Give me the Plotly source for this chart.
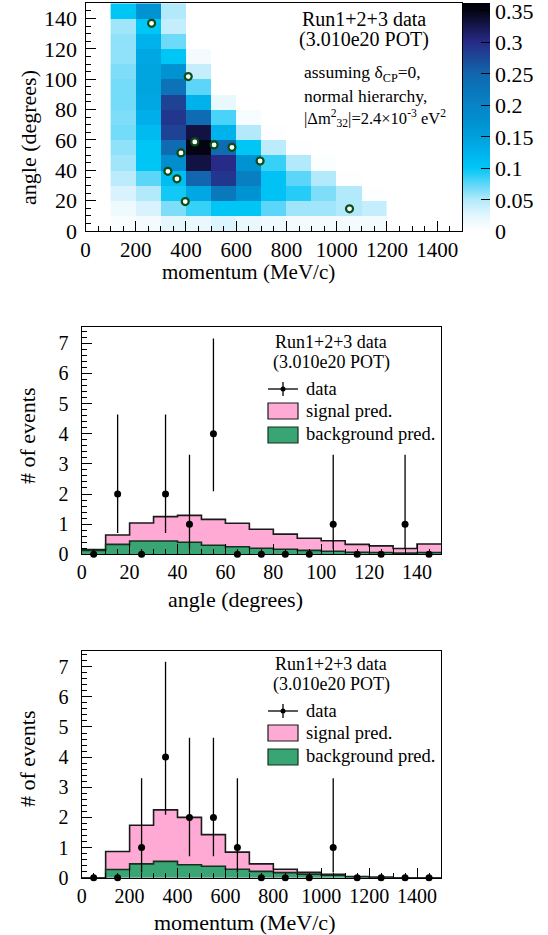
import plotly.graph_objects as go

W, H = 548, 935

# ---------------- data ----------------
# 2D prediction (top panel): rows = angle bins (0-10 ... 140-150), cols = momentum bins (100-200 ... 1100-1200)
mom_bin_centers = [150, 250, 350, 450, 550, 650, 750, 850, 950, 1050, 1150]
ang_bin_centers = [5, 15, 25, 35, 45, 55, 65, 75, 85, 95, 105, 115, 125, 135, 145]
pred_2d = [
    [0.005, 0.010, 0.022, 0.020, 0.028, 0.020, 0.015, 0.010, 0.010, 0.010, 0.010],
    [0.015, 0.030, 0.065, 0.085, 0.100, 0.100, 0.075, 0.055, 0.055, 0.050, 0.040],
    [0.030, 0.050, 0.095, 0.140, 0.220, 0.170, 0.105, 0.090, 0.065, 0.050, 0.003],
    [0.045, 0.075, 0.110, 0.250, 0.290, 0.210, 0.105, 0.075, 0.050, 0.003, 0.0],
    [0.055, 0.100, 0.180, 0.330, 0.300, 0.170, 0.085, 0.050, 0.004, 0.0, 0.0],
    [0.060, 0.100, 0.240, 0.350, 0.240, 0.100, 0.045, 0.003, 0.0, 0.0, 0.0],
    [0.068, 0.115, 0.280, 0.330, 0.125, 0.050, 0.003, 0.0, 0.0, 0.0, 0.0],
    [0.065, 0.130, 0.290, 0.240, 0.080, 0.007, 0.0, 0.0, 0.0, 0.0, 0.0],
    [0.068, 0.140, 0.280, 0.125, 0.020, 0.0, 0.0, 0.0, 0.0, 0.0, 0.0],
    [0.068, 0.145, 0.230, 0.075, 0.0, 0.0, 0.0, 0.0, 0.0, 0.0, 0.0],
    [0.065, 0.145, 0.170, 0.040, 0.0, 0.0, 0.0, 0.0, 0.0, 0.0, 0.0],
    [0.060, 0.140, 0.100, 0.010, 0.0, 0.0, 0.0, 0.0, 0.0, 0.0, 0.0],
    [0.060, 0.125, 0.070, 0.0, 0.0, 0.0, 0.0, 0.0, 0.0, 0.0, 0.0],
    [0.055, 0.100, 0.040, 0.0, 0.0, 0.0, 0.0, 0.0, 0.0, 0.0, 0.0],
    [0.100, 0.170, 0.050, 0.0, 0.0, 0.0, 0.0, 0.0, 0.0, 0.0, 0.0],
]
z_max = 0.362
cbar_ticks = [0, 0.05, 0.1, 0.15, 0.2, 0.25, 0.3, 0.35]
cbar_labels = ["0", "0.05", "0.1", "0.15", "0.2", "0.25", "0.3", "0.35"]

# observed events (momentum MeV/c, angle degrees)
evt_mom = [263, 409, 435, 512, 583, 380, 695, 328, 364, 397, 1051]
evt_ang = [136.8, 101.7, 58.7, 56.7, 55.1, 51.4, 46.1, 39.3, 34.4, 19.4, 14.6]

# angle projection
ang_edges = [0, 10, 20, 30, 40, 50, 60, 70, 80, 90, 100, 110, 120, 130, 140, 150]
ang_bkg = [0.13, 0.33, 0.44, 0.44, 0.40, 0.30, 0.25, 0.20, 0.17, 0.13, 0.10, 0.07, 0.06, 0.04, 0.06]
ang_sig = [0.03, 0.31, 0.60, 0.81, 0.89, 0.86, 0.78, 0.63, 0.50, 0.40, 0.35, 0.26, 0.22, 0.15, 0.28]
ang_data = [0, 2, 0, 2, 1, 4, 0, 0, 0, 0, 1, 0, 0, 1, 0]

# momentum projection
mom_edges = [0, 100, 200, 300, 400, 500, 600, 700, 800, 900, 1000, 1100, 1200, 1300, 1400, 1500]
mom_bkg = [0.0, 0.27, 0.46, 0.54, 0.43, 0.38, 0.28, 0.21, 0.17, 0.12, 0.08, 0.03, 0.01, 0.0, 0.0]
mom_sig = [0.0, 0.60, 1.28, 1.71, 1.57, 1.05, 0.57, 0.25, 0.11, 0.06, 0.03, 0.01, 0.0, 0.0, 0.0]
mom_data = [0, 0, 1, 4, 2, 2, 1, 0, 0, 0, 1, 0, 0, 0, 0]

# Poisson error bars (upper / lower) by observed count
err_up_by_n = {0: 0.0, 1: 2.30, 2: 2.64, 4: 3.16}
err_dn_by_n = {0: 0.0, 1: 0.83, 2: 1.29, 4: 1.91}

# colour palette (value -> colour)
pal_values = [0.0, 0.025, 0.05, 0.075, 0.1, 0.125, 0.15, 0.175, 0.2, 0.225, 0.25, 0.275, 0.3, 0.325, 0.35, 0.362]
pal_colors = ["#ffffff", "#e2f6fd", "#b2e9fb", "#5cd6f8", "#00c6f6", "#00b2ec", "#00a0dc", "#0090d0",
              "#0884c6", "#0a76ba", "#1266ae", "#1c4898", "#272a86", "#16174e", "#040412", "#000008"]

FONT = "Liberation Serif"
PINK = "#ffaad5"
GREEN = "#3aa574"

# ---------------- helpers ----------------
def px(x):
    return x / W

def py(y):
    return 1 - y / H

def step(edges, vals):
    return list(edges), list(vals) + [vals[-1]]

def centers(edges):
    return [(a + b) / 2 for a, b in zip(edges[:-1], edges[1:])]

fig = go.Figure()

# ---------------- top: 2D heatmap ----------------
colorscale = [[v / z_max, c] for v, c in zip(pal_values, pal_colors)]
fig.add_trace(go.Heatmap(
    x=mom_bin_centers, y=ang_bin_centers, z=pred_2d,
    zmin=0, zmax=z_max, colorscale=colorscale, xaxis="x", yaxis="y",
    showscale=True, hoverinfo="skip",
    colorbar=dict(
        x=px(463), xanchor="left", xpad=0, thickness=27, thicknessmode="pixels",
        y=py(3.3), yanchor="top", ypad=0, len=(231 - 3.3) / H, lenmode="fraction",
        outlinewidth=0, ticks="inside", ticklen=9, tickcolor="black", tickwidth=1,
        tickmode="array", tickvals=cbar_ticks, ticktext=cbar_labels, ticklabeloverflow="allow",
        tickfont=dict(family=FONT, size=22, color="black"),
    ),
))
fig.add_trace(go.Scatter(
    x=evt_mom, y=evt_ang, mode="markers", xaxis="x", yaxis="y",
    marker=dict(size=7, color="white", line=dict(color="#0b4d16", width=2.2)),
    showlegend=False, hoverinfo="skip",
))

# ---------------- middle: angle ----------------
ang_tot = [b + s for b, s in zip(ang_bkg, ang_sig)]
sx, sy = step(ang_edges, ang_tot)
fig.add_trace(go.Scatter(x=sx, y=sy, xaxis="x2", yaxis="y2", mode="lines", line_shape="hv",
                         fill="tozeroy", fillcolor=PINK, line=dict(color="#1a1a1a", width=1.6),
                         showlegend=False, hoverinfo="skip"))
bx, by = step(ang_edges, ang_bkg)
fig.add_trace(go.Scatter(x=bx, y=by, xaxis="x2", yaxis="y2", mode="lines", line_shape="hv",
                         fill="tozeroy", fillcolor=GREEN, line=dict(color="#14301f", width=1.6),
                         showlegend=False, hoverinfo="skip"))
fig.add_trace(go.Scatter(
    x=centers(ang_edges), y=ang_data, xaxis="x2", yaxis="y2", mode="markers", cliponaxis=False,
    marker=dict(size=7, color="black"),
    error_y=dict(type="data", symmetric=False, array=[err_up_by_n[n] for n in ang_data],
                 arrayminus=[err_dn_by_n[n] for n in ang_data], width=0, thickness=1.3, color="black"),
    showlegend=False, hoverinfo="skip"))

# ---------------- bottom: momentum ----------------
mom_tot = [b + s for b, s in zip(mom_bkg, mom_sig)]
sx, sy = step(mom_edges, mom_tot)
fig.add_trace(go.Scatter(x=sx, y=sy, xaxis="x3", yaxis="y3", mode="lines", line_shape="hv",
                         fill="tozeroy", fillcolor=PINK, line=dict(color="#1a1a1a", width=1.6),
                         showlegend=False, hoverinfo="skip"))
bx, by = step(mom_edges, mom_bkg)
fig.add_trace(go.Scatter(x=bx, y=by, xaxis="x3", yaxis="y3", mode="lines", line_shape="hv",
                         fill="tozeroy", fillcolor=GREEN, line=dict(color="#14301f", width=1.6),
                         showlegend=False, hoverinfo="skip"))
fig.add_trace(go.Scatter(
    x=centers(mom_edges), y=mom_data, xaxis="x3", yaxis="y3", mode="markers", cliponaxis=False,
    marker=dict(size=7, color="black"),
    error_y=dict(type="data", symmetric=False, array=[err_up_by_n[n] for n in mom_data],
                 arrayminus=[err_dn_by_n[n] for n in mom_data], width=0, thickness=1.3, color="black"),
    showlegend=False, hoverinfo="skip"))

# ---------------- axes ----------------
def axis(domain, rng, dtick, minor, size, anchor, standoff):
    return dict(
        domain=domain, range=rng, dtick=dtick, tick0=0, anchor=anchor, automargin=False,
        ticks="inside", ticklen=10, tickwidth=1, tickcolor="black",
        minor=dict(dtick=minor, ticks="inside", ticklen=5, tickwidth=1, tickcolor="black", showgrid=False),
        showline=True, linecolor="black", linewidth=1.2, mirror=True,
        showgrid=False, zeroline=False, ticklabelstandoff=standoff,
        tickfont=dict(family=FONT, size=size, color="black"),
    )

top_x = [px(85.5), px(462.3)]
top_y = [py(231), py(3.3)]
mid_x = [px(81.7), px(441)]
mid_y = [py(554.3), py(327.3)]
bot_x = [px(81.7), px(441)]
bot_y = [py(877.7), py(651)]

layout = dict(
    template="none",
    width=W, height=H, margin=dict(l=0, r=0, t=0, b=0, pad=0),
    paper_bgcolor="white", plot_bgcolor="white", showlegend=False,
    font=dict(family=FONT, color="black"),
    xaxis=axis(top_x, [0, 1500], 200, 50, 21, "y", 0),
    yaxis=axis(top_y, [0, 150], 20, 5, 22, "x", 3),
    xaxis2=axis(mid_x, [0, 150], 20, 5, 20, "y2", 0),
    yaxis2=axis(mid_y, [0, 7.53], 1, 0.2, 20, "x2", 8),
    xaxis3=axis(bot_x, [0, 1500], 200, 50, 20, "y3", 0),
    yaxis3=axis(bot_y, [0, 7.52], 1, 0.2, 20, "x3", 8),
)
fig.update_layout(**layout)

ann = []
def text(x, y, s, size, xanchor="center", angle=0):
    ann.append(dict(x=px(x), y=py(y), xref="paper", yref="paper", text=s, showarrow=False,
                    xanchor=xanchor, yanchor="middle", textangle=angle,
                    font=dict(family=FONT, size=size, color="black")))

# axis titles
text(248, 272, "momentum (MeV/c)", 21)
text(28, 138, "angle (degrees)", 22, angle=-90)
text(236, 599, "angle (degrees)", 22)
text(27, 436, "# of events", 22, angle=-90)
text(244, 922, "momentum (MeV/c)", 22)
text(27, 759, "# of events", 22, angle=-90)

# top panel labels
text(364, 19, "Run1+2+3 data", 20)
text(364, 40, "(3.010e20 POT)", 20)
text(302, 73, "assuming δ<sub>CP</sub>=0,", 17.5, xanchor="left")
text(302, 96, "normal hierarchy,", 17.5, xanchor="left")
text(302, 118, "|Δm<sup>2</sup><sub>32</sub>|=2.4×10<sup>-3</sup> eV<sup>2</sup>", 16.5, xanchor="left")

shapes = []
def legend(y0):
    # y0: pixel y of header first line
    text(331, y0, "Run1+2+3 data", 18)
    text(331, y0 + 20, "(3.010e20 POT)", 18)
    yd = y0 + 47
    text(304, yd, "data", 18.5, xanchor="left")
    text(304, yd + 22, "signal pred.", 18.5, xanchor="left")
    text(304, yd + 45, "background pred.", 18.5, xanchor="left")
    shapes.append(dict(type="line", xref="paper", yref="paper", x0=px(268), x1=px(298), y0=py(yd), y1=py(yd),
                       line=dict(color="black", width=1.3)))
    shapes.append(dict(type="line", xref="paper", yref="paper", x0=px(283), x1=px(283), y0=py(yd - 7), y1=py(yd + 7),
                       line=dict(color="black", width=1.3)))
    shapes.append(dict(type="circle", xref="paper", yref="paper", x0=px(280.5), x1=px(285.5),
                       y0=py(yd - 2.5), y1=py(yd + 2.5), fillcolor="black", line=dict(color="black", width=0)))
    shapes.append(dict(type="rect", xref="paper", yref="paper", x0=px(268), x1=px(298),
                       y0=py(yd + 14), y1=py(yd + 30), fillcolor=PINK, line=dict(color="#1a1a1a", width=1.2)))
    shapes.append(dict(type="rect", xref="paper", yref="paper", x0=px(268), x1=px(298),
                       y0=py(yd + 38), y1=py(yd + 54), fillcolor=GREEN, line=dict(color="#14301f", width=1.2)))

legend(342)
legend(664)

fig.update_layout(annotations=ann, shapes=shapes)
fig.write_html("out.html", config={"displayModeBar": False},
               post_script="document.body.style.margin='0';document.body.style.padding='0';")
